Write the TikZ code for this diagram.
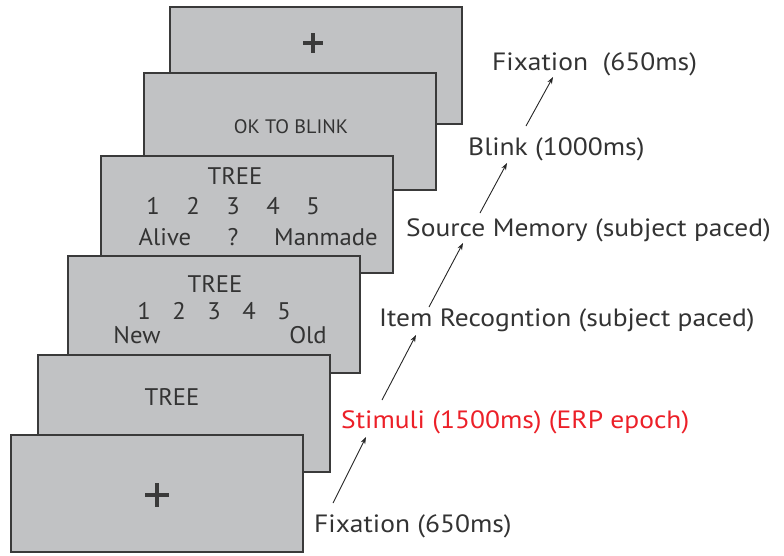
\documentclass[tikz,border=0pt]{standalone}
\usepackage{fontspec}
\setmainfont{PT Sans}
\newfontfamily\lblfont{PT Sans}[FakeStretch=1.1]
\newfontfamily\boxfont{PT Sans}[FakeStretch=1.03]
\usetikzlibrary{arrows.meta}
\definecolor{scrfill}{HTML}{C1C2C4}
\definecolor{scrline}{HTML}{3A3A3A}
\definecolor{txtgray}{HTML}{333333}
\definecolor{stimred}{HTML}{EC2028}
\tikzset{
  screen/.style={draw=scrline, fill=scrfill, line width=1.6pt, minimum width=292pt, minimum height=117pt, inner sep=0pt, anchor=north west},
  boxtxt/.style={text=txtgray, inner sep=0pt, anchor=base, font=\boxfont\fontsize{24}{28}\selectfont},
  lbl/.style={text=txtgray, inner sep=0pt, anchor=base west, font=\lblfont\fontsize{25}{29}\selectfont},
  arr/.style={draw=black!85, line width=0.9pt, -{Stealth[length=7pt,width=5pt]}},
  plusbar/.style={draw=scrline, line cap=butt}
}
\begin{document}
\begin{tikzpicture}[x=1pt,y=-1pt]
\useasboundingbox (0,0) rectangle (784,555);
% screens, back to front
\node[screen] (r1) at (169,6) {};
\draw[plusbar, line width=3.2pt] (303,43) -- (323,43);
\draw[plusbar, line width=3.2pt] (313,33) -- (313,53);
\node[screen] (r2) at (143,72) {};
\node[boxtxt, font=\boxfont\fontsize{19.5}{23}\selectfont] (blinktxt) at (291,133) {OK TO BLINK};
\node[screen] (r3) at (100,155) {};
\node[boxtxt] (t3) at (235,184) {TREE};
\node[boxtxt] (a1) at (153,214) {1};
\node[boxtxt] (a2) at (193,214) {2};
\node[boxtxt] (a3) at (233,214) {3};
\node[boxtxt] (a4) at (273,214) {4};
\node[boxtxt] (a5) at (313,214) {5};
\node[boxtxt] (alive) at (165,245) {Alive};
\node[boxtxt] (qm) at (233,245) {?};
\node[boxtxt] (manmade) at (326,245) {Manmade};
\node[screen] (r4) at (67,255) {};
\node[boxtxt] (t4) at (215,292) {TREE};
\node[boxtxt] (b1) at (144,319) {1};
\node[boxtxt] (b2) at (179,319) {2};
\node[boxtxt] (b3) at (214,319) {3};
\node[boxtxt] (b4) at (249,319) {4};
\node[boxtxt] (b5) at (284,319) {5};
\node[boxtxt] (new) at (137,343) {New};
\node[boxtxt] (old) at (308,343) {Old};
\node[screen] (r5) at (37,354) {};
\node[boxtxt] (t5) at (172,405) {TREE};
\node[screen] (r6) at (10,434) {};
\draw[plusbar, line width=4pt] (145,495) -- (169,495);
\draw[plusbar, line width=4pt] (157,483) -- (157,507);
% labels
\node[lbl] (l1) at (314,532) {Fixation (650ms)};
\node[lbl, text=stimred] (l2) at (341,428) {Stimuli (1500ms) (ERP epoch)};
\node[lbl] (l3) at (379,326) {Item Recogntion (subject paced)};
\node[lbl] (l4) at (406,236) {Source Memory (subject paced)};
\node[lbl] (l5) at (468,155) {Blink (1000ms)};
\node[lbl] (l6) at (492,70) {Fixation\ \ (650ms)};
% arrow ends
\coordinate (s1) at (333,503); \coordinate (e1) at (366,437);
\coordinate (s2) at (382,400); \coordinate (e2) at (416,335);
\coordinate (s3) at (429,307); \coordinate (e3) at (463,243);
\coordinate (s4) at (480,213); \coordinate (e4) at (507,163);
\coordinate (s5) at (526,126); \coordinate (e5) at (553,77);
\draw[arr] (s1) -- (e1);
\draw[arr] (s2) -- (e2);
\draw[arr] (s3) -- (e3);
\draw[arr] (s4) -- (e4);
\draw[arr] (s5) -- (e5);
\end{tikzpicture}
\end{document}
